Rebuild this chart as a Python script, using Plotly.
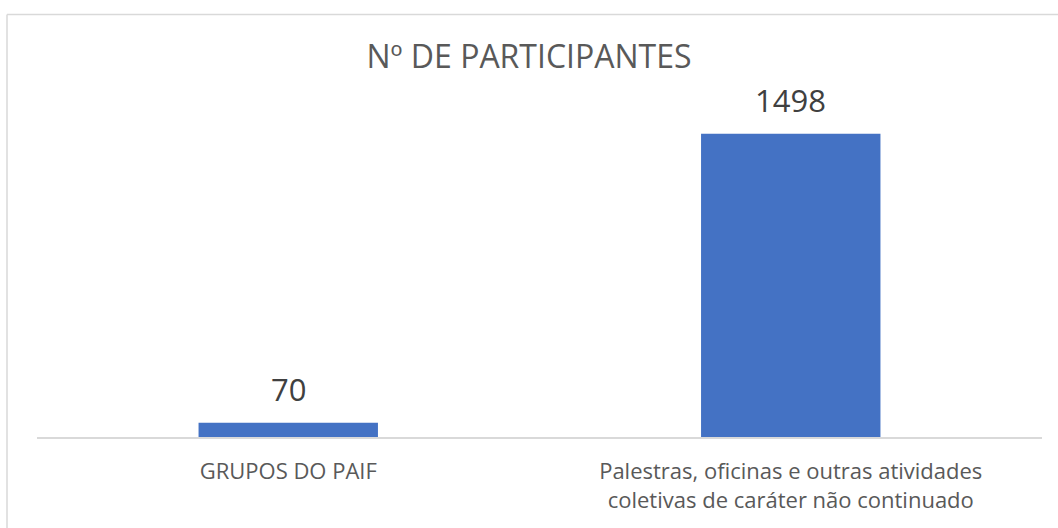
import plotly.graph_objects as go

categories = ["GRUPOS DO PAIF",
              "Palestras, oficinas e outras atividades<br>coletivas de caráter não continuado"]
values = [70, 1498]
title_text = "Nº DE PARTICIPANTES"

W, H = 1058, 528
L, R, T, B = 37, 16, 113, 91
plot_w = W - L - R
plot_h = H - T - B

def px_x(px):
    return (px - L) / plot_w

def px_y(py):
    return (H - B - py) / plot_h

fig = go.Figure()
fig.add_trace(go.Bar(
    x=categories, y=values,
    marker=dict(color="#4472C4", line=dict(width=0)),
    hoverinfo="skip",
))

for c, v in zip(categories, values):
    fig.add_annotation(x=c, y=v, text=str(v), showarrow=False,
                       yanchor="middle", yshift=34,
                       font=dict(family="Open Sans", size=31, color="#404040"))

# chart border (left and top edges visible)
fig.add_shape(type="line", xref="paper", yref="paper",
              x0=px_x(7), x1=px_x(7), y0=px_y(540), y1=px_y(14.5),
              line=dict(color="#D9D9D9", width=1.5))
fig.add_shape(type="line", xref="paper", yref="paper",
              x0=px_x(7), x1=px_x(1070), y0=px_y(14.5), y1=px_y(14.5),
              line=dict(color="#D9D9D9", width=1.5))

fig.update_layout(
    width=W, height=H, autosize=False,
    margin=dict(l=L, r=R, t=T, b=B),
    paper_bgcolor="white", plot_bgcolor="white",
    bargap=0.643,
    showlegend=False,
    title=dict(text=title_text, x=0.5, xanchor="center",
               y=1 - 57 / H, yanchor="middle",
               font=dict(family="Open Sans", size=32, color="#595959")),
    xaxis=dict(showline=True, linecolor="#D9D9D9", linewidth=1.5,
               ticks="", showgrid=False, zeroline=False,
               tickfont=dict(family="Open Sans", size=22, color="#595959"),
               ticklabelstandoff=14),
    yaxis=dict(range=[0, 1600], visible=False, showgrid=False, zeroline=False),
)

fig.write_html("out.html",
               config={"displayModeBar": False},
               post_script="document.body.style.margin='0';document.body.style.overflow='hidden';")
